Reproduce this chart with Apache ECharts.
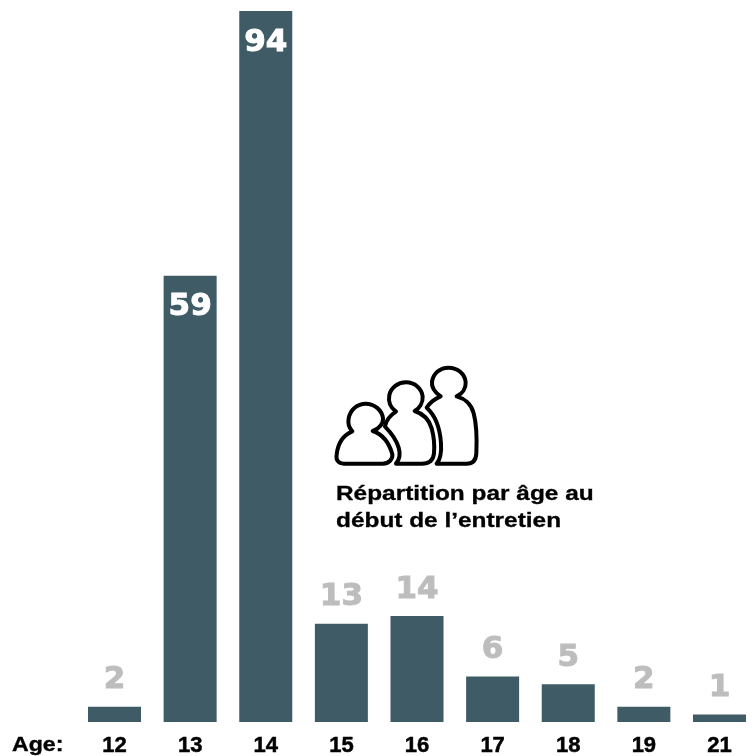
<!DOCTYPE html>
<html>
<head>
<meta charset="utf-8">
<style>
  html, body { margin: 0; padding: 0; background: #fff; }
  #chart { width: 754px; height: 756px; }
</style>
</head>
<body>
<div id="chart"></div>
<script src="https://cdn.jsdelivr.net/npm/echarts@6/dist/echarts.min.js"></script>
<script>
const ages = ['12', '13', '14', '15', '16', '17', '18', '19', '21'];
const counts = [2, 59, 94, 13, 14, 6, 5, 2, 1];
const titleLines = 'Répartition par âge au\ndébut de l’entretien';

const barColor = '#3f5b66';
const labelFont = 'DejaVu Sans';
const textFont = 'Liberation Sans';

// drawn in zoomed-up coordinates, the group scales them down by 3
const personPaths = [
  'M362 124C345 112 334 97 336 80C340 55 360 38 386 38C412 38 435 56 437 82C438 100 427 116 410 124C432 130 454 147 461 175C469 205 471 250 469 295C468 315 460 326 440 326L350 326C362 312 365 295 363 265C360 220 345 180 320 158C330 142 348 130 362 124Z',
  'M228 170C212 158 204 140 208 120C213 97 234 82 258 82C284 82 306 101 308 125C309 144 298 160 284 168C306 175 327 192 335 220C342 245 344 270 342 295C340 315 330 326 305 326L228 326C240 312 242 298 236 278C228 252 212 232 195 215C198 195 212 180 228 170Z',
  'M97 229C87 218 83 205 86 190C91 164 112 146 137 146C163 146 186 165 189 190C190 205 178 222 158 228C188 238 208 265 217 298C219 312 207 326 188 326L72 326C55 326 47 315 50 298C54 265 70 240 97 229Z'
];
personPaths.forEach((pathData, i) => {
  echarts.graphic.registerShape('person' + i, echarts.graphic.extendPath(pathData, {}));
});

const chart = echarts.init(document.getElementById('chart'), null, { renderer: 'canvas' });
chart.setOption({
  animation: false,
  grid: { left: 76.7, width: 680.6, top: 11, bottom: 34, outerBoundsMode: 'none' },
  xAxis: {
    type: 'category',
    data: ages,
    axisLine: { show: false },
    axisTick: { show: false },
    axisLabel: {
      color: '#000',
      fontFamily: textFont,
      fontWeight: 'bold',
      fontSize: 22,
      margin: 13,
      textBorderColor: '#000',
      textBorderWidth: 0.5
    }
  },
  yAxis: { type: 'value', min: 0, max: 94, show: false },
  series: [{
    type: 'bar',
    barWidth: 53,
    itemStyle: { color: barColor },
    data: counts.map((value) => ({
      value,
      label: value > 50
        ? { position: 'insideTop', distance: 16, color: '#fff', textBorderColor: '#fff' }
        : { position: 'top', distance: 11, color: '#bdbdbd', textBorderColor: '#bdbdbd' }
    })),
    label: { show: true, fontFamily: labelFont, fontWeight: 'bold', fontSize: 31, textBorderWidth: 1 }
  }],
  graphic: [
    {
      type: 'text',
      x: 12,
      y: 735,
      scaleX: 1.1,
      style: { text: 'Age:', fill: '#000', stroke: '#000', lineWidth: 0.4, font: 'bold 21px "Liberation Sans"' }
    },
    {
      type: 'text',
      x: 336,
      y: 481,
      scaleX: 1.22,
      style: { text: titleLines, fill: '#000', stroke: '#000', lineWidth: 0.3, font: 'bold 20px "Liberation Sans"', lineHeight: 27 }
    },
    {
      type: 'group',
      x: 320,
      y: 355,
      scaleX: 1 / 3,
      scaleY: 1 / 3,
      children: personPaths.map((pathData, i) => ({
        type: 'person' + i,
        style: { fill: '#fff', stroke: '#000', lineWidth: 12, lineJoin: 'round' }
      }))
    }
  ]
});
</script>
</body>
</html>
